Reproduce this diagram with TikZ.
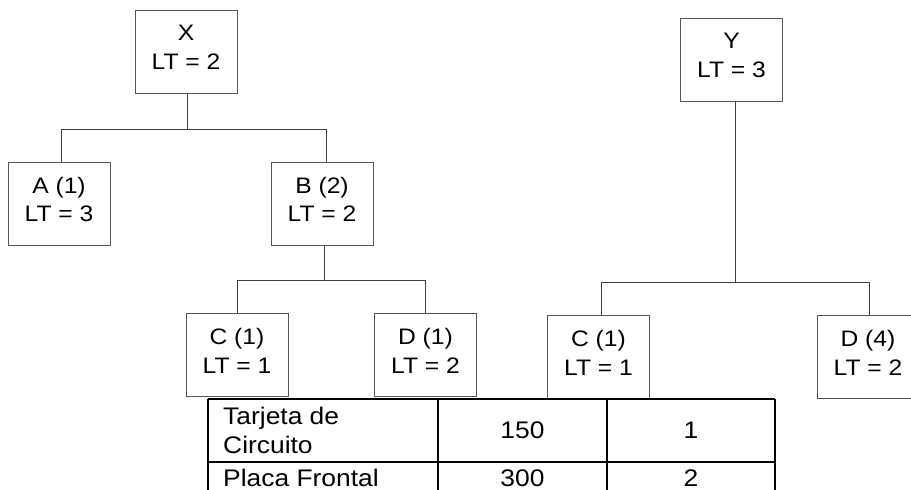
\documentclass[tikz,border=0pt]{standalone}
\usepackage{fontspec}
\setmainfont[FakeStretch=1.1]{Liberation Sans}
\usepackage{xcolor}
\definecolor{partline}{HTML}{555555}
\definecolor{linkline}{HTML}{404040}

\tikzset{
	part/.style={draw=partline, line width=1pt, minimum width=102pt, minimum height=83pt,
		inner sep=0pt, align=center, text depth=8pt, font=\fontsize{22.4}{28.5}\selectfont},
	link/.style={draw=linkline, line width=1pt},
	cell/.style={inner sep=0pt, font=\fontsize{24}{29}\selectfont},
	grid/.style={draw=black, line width=2pt}
}

\begin{document}
\begin{tikzpicture}[x=1pt, y=-1pt]
		\useasboundingbox (0,0) rectangle (911,490);
		% tree of X
		\node[part] (X) at (186,51.5) {X\\LT = 2};
		\node[part] (A) at (59,203.5) {A (1)\\LT = 3};
		\node[part] (B) at (322,203.5) {B (2)\\LT = 2};
		\node[part] (CB) at (237,355) {C (1)\\LT = 1};
		\node[part] (DB) at (425.5,355) {D (1)\\LT = 2};
		\draw[link] ([xshift=1pt]X.south) -- ++(0,36) coordinate (xm);
		\draw[link] ([xshift=2pt]A.north) |- (xm) -| ([xshift=4pt]B.north);
		\draw[link] ([xshift=2pt]B.south) -- ++(0,35) coordinate (bm);
		\draw[link] (CB.north) |- (bm) -| (DB.north);
		% tree of Y
		\node[part] (Y) at (731.5,59.5) {Y\\LT = 3};
		\node[part] (CY) at (598.5,357) {C (1)\\LT = 1};
		\node[part] (DY) at (868,357) {D (4)\\LT = 2};
		\draw[link] ([xshift=3.5pt]Y.south) -- ++(0,181) coordinate (ym);
		\draw[link] ([xshift=2.5pt]CY.north) |- (ym) -| ([xshift=1pt]DY.north);
		% table of components
		\draw[grid] (208,399) -- (775,399);
		\draw[grid] (208,462) -- (775,462);
		\foreach \gx in {208,438,607,775}
			\draw[grid] (\gx,399) -- (\gx,495);
		\node[cell, anchor=west, align=left] (card) at (223,430.5) {Tarjeta de\\Circuito};
		\node[cell] (cardcost) at (522.5,430.5) {150};
		\node[cell] (cardlt) at (691,430.5) {1};
		\node[cell, anchor=base west] (plate) at (223,486) {Placa Frontal};
		\node[cell, anchor=base] (platecost) at (522.5,486) {300};
		\node[cell, anchor=base] (platelt) at (691,486) {2};
	\end{tikzpicture}
\end{document}
